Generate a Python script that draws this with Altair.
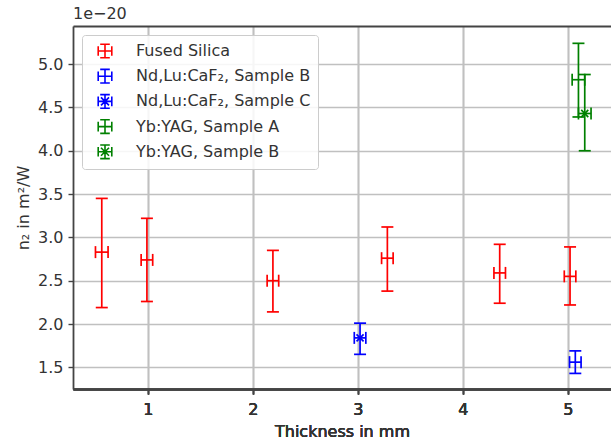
import altair as alt
import pandas as pd

# ---- data ----
series_names = ["Fused Silica", "Nd,Lu:CaF₂, Sample B", "Nd,Lu:CaF₂, Sample C",
                "Yb:YAG, Sample A", "Yb:YAG, Sample B"]
series_colors = ["#ff0000", "#0000ff", "#0000ff", "#008000", "#008000"]
series_star = [False, False, True, False, True]

pt_series = ["Fused Silica"] * 6 + ["Nd,Lu:CaF₂, Sample B", "Nd,Lu:CaF₂, Sample C",
                                     "Yb:YAG, Sample A", "Yb:YAG, Sample B"]
pt_x = [0.56, 0.99, 2.19, 3.28, 4.35, 5.02, 5.07, 3.02, 5.10, 5.16]
pt_y = [2.83, 2.74, 2.50, 2.76, 2.59, 2.55, 1.56, 1.84, 4.82, 4.43]
pt_ylo = [2.19, 2.26, 2.14, 2.38, 2.24, 2.22, 1.43, 1.65, 4.39, 4.00]
pt_yhi = [3.45, 3.22, 2.85, 3.12, 2.92, 2.89, 1.69, 2.01, 5.24, 4.88]
pt_xerr = [0.06, 0.055, 0.055, 0.055, 0.055, 0.055, 0.055, 0.055, 0.06, 0.06]

x_ticks = [1, 2, 3, 4, 5]
y_ticks = [1.5, 2.0, 2.5, 3.0, 3.5, 4.0, 4.5, 5.0]
x_domain = [0.286, 5.41]
y_domain = [1.25, 5.44]

# ---- tables ----
color_of = dict(zip(series_names, series_colors))
df = pd.DataFrame({"series": pt_series, "x": pt_x, "y": pt_y,
                   "ylo": pt_ylo, "yhi": pt_yhi, "xerr": pt_xerr})
df["xlo"] = df["x"] - df["xerr"]
df["xhi"] = df["x"] + df["xerr"]
df["col"] = df["series"].map(color_of)

vcaps = pd.concat([df.assign(cy=df["ylo"]), df.assign(cy=df["yhi"])])
hcaps = pd.concat([df.assign(cx=df["xlo"]), df.assign(cx=df["xhi"])])
stars = df[df["series"].isin([n for n, s in zip(series_names, series_star) if s])]

base_path = "M-0.85,0H0.85M0,-0.85V0.85M-0.85,-0.6V0.6M0.85,-0.6V0.6M-0.6,-0.85H0.6M-0.6,0.85H0.6"
star_path = base_path + "M-0.5,-0.5L0.5,0.5M-0.5,0.5L0.5,-0.5"
shapes = [star_path if s else base_path for s in series_star]

xs = alt.Scale(domain=x_domain, nice=False, zero=False)
ys = alt.Scale(domain=y_domain, nice=False, zero=False)

FONT = "DejaVu Sans"
TXT = "#333333"
FS = 16

x_axis = alt.Axis(orient="bottom", values=x_ticks, format="d", title="Thickness in mm",
                  grid=True, gridColor="#c0c0c0", gridWidth=1.3, domainColor="#444444",
                  domainWidth=1.8, tickColor="#444444", tickWidth=1.4, tickSize=5,
                  labelFontSize=FS, titleFontSize=FS, labelColor=TXT, titleColor=TXT,
                  labelFont=FONT, titleFont=FONT, titleFontWeight="normal",
                  labelPadding=7, titlePadding=6)
y_axis = alt.Axis(orient="left", values=y_ticks, format=".1f", title="n₂ in m²/W",
                  grid=True, gridColor="#c0c0c0", gridWidth=1.3, domainColor="#444444",
                  domainWidth=1.8, tickColor="#444444", tickWidth=1.4, tickSize=5,
                  labelFontSize=FS, titleFontSize=FS, labelColor=TXT, titleColor=TXT,
                  labelFont=FONT, titleFont=FONT, titleFontWeight="normal",
                  labelPadding=5, titlePadding=6)

X = alt.X("x:Q", scale=xs, axis=x_axis)
Y = alt.Y("y:Q", scale=ys, axis=y_axis)
S = alt.Stroke("col:N", scale=None)
F = alt.Fill("col:N", scale=None)

vbars = alt.Chart(df).mark_rule(strokeWidth=1.7).encode(
    x=X, y=alt.Y("ylo:Q", scale=ys, axis=y_axis), y2="yhi:Q", stroke=S)
hbars = alt.Chart(df).mark_rule(strokeWidth=1.7).encode(
    x=alt.X("xlo:Q", scale=xs, axis=x_axis), x2="xhi:Q", y=Y, stroke=S)
vcap = alt.Chart(vcaps).mark_tick(orient="horizontal", size=12, thickness=1.7,
                                  opacity=1).encode(
    x=X, y=alt.Y("cy:Q", scale=ys, axis=y_axis), fill=F)
hcap = alt.Chart(hcaps).mark_tick(orient="vertical", size=12, thickness=1.7,
                                  opacity=1).encode(
    x=alt.X("cx:Q", scale=xs, axis=x_axis), y=Y, fill=F)
star = alt.Chart(stars).mark_point(shape="M-1,-1L1,1M-1,1L1,-1", filled=False,
                                   size=50, strokeWidth=1.7, opacity=1).encode(
    x=X, y=Y, stroke=S)

legend_layer = alt.Chart(df).mark_point(filled=False, opacity=0, strokeWidth=1.6).encode(
    x=alt.X("x:Q", scale=xs, axis=alt.Axis(orient="top", labels=False, ticks=False,
                                           grid=False, domain=True, domainColor="#444444",
                                           domainWidth=1.8, title=None)),
    y=Y,
    color=alt.Color("series:N", scale=alt.Scale(domain=series_names, range=series_colors),
                    title=None,
                    legend=alt.Legend(orient="top-left", offset=9, symbolSize=256,
                                      symbolStrokeWidth=1.6, symbolOpacity=1,
                                      symbolOffset=7,
                                      labelFontSize=FS, labelFont=FONT, labelColor=TXT,
                                      labelOffset=22, rowPadding=5.2, padding=7,
                                      fillColor="rgba(255,255,255,0.85)",
                                      strokeColor="#cccccc", cornerRadius=3,
                                      labelLimit=400)),
    shape=alt.Shape("series:N", scale=alt.Scale(domain=series_names, range=shapes),
                    title=None, legend=alt.Legend(orient="top-left")),
)

chart = alt.layer(vbars, hbars, vcap, hcap, star, legend_layer).properties(
    width=538, height=363,
    title=alt.TitleParams("1e−20", anchor="start", frame="group", fontSize=FS,
                          font=FONT, fontWeight="normal", color=TXT, offset=4),
    padding={"left": 73, "top": 26, "right": 0, "bottom": 54},
    autosize=alt.AutoSizeParams(type="none"),
).configure_view(stroke=None).configure(background="white")

chart.save("out.html", embed_options={"renderer": "svg", "actions": False})
